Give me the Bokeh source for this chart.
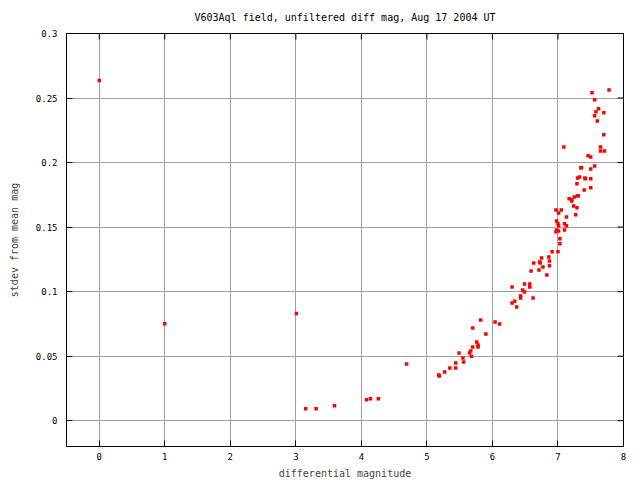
from bokeh.plotting import figure
from bokeh.models import LinearAxis, FixedTicker, Range1d, Title, Grid
from bokeh.embed import file_html
from bokeh.resources import INLINE

diff_mag = [0.0, 1.0, 3.01, 3.15, 3.31, 3.59, 4.08, 4.14, 4.26, 4.69,
            5.18, 5.19, 5.27, 5.35, 5.44, 5.44, 5.49, 5.56, 5.55, 5.65,
            5.67, 5.68, 5.70, 5.70, 5.76, 5.78, 5.78, 5.82, 5.90, 6.04,
            6.11, 6.30, 6.30, 6.34, 6.37, 6.43, 6.43, 6.46, 6.49, 6.49,
            6.57, 6.57, 6.62, 6.59, 6.63, 6.71, 6.72, 6.73, 6.75, 6.77,
            6.83, 6.86, 6.87, 6.87, 6.91, 7.00, 7.03, 7.03, 6.97, 6.98,
            7.01, 7.00, 7.01, 6.98, 7.10, 7.10, 7.13, 6.97, 7.01, 7.05,
            7.13, 7.24, 7.27, 7.29, 7.21,
            7.78, 7.52, 7.56, 7.62, 7.58, 7.70, 7.56, 7.60, 7.70, 7.09,
            7.65, 7.65, 7.71, 7.46, 7.50, 7.56, 7.35, 7.36, 7.50, 7.33,
            7.30, 7.41, 7.42, 7.50, 7.29, 7.50, 7.40, 7.30, 7.31, 7.25,
            7.17, 7.21]
stdev = [0.2636, 0.0752, 0.083, 0.0093, 0.0093, 0.0116, 0.0163, 0.017, 0.017, 0.044,
         0.0354, 0.0346, 0.0377, 0.0409, 0.0409, 0.0447, 0.0525, 0.0455, 0.0486, 0.0525,
         0.054, 0.050, 0.0571, 0.0719, 0.061, 0.0587, 0.0571, 0.078, 0.0672, 0.0765,
         0.075, 0.1036, 0.0912, 0.0925, 0.0881, 0.0966, 0.0951, 0.1013, 0.0998, 0.106,
         0.106, 0.1036, 0.0951, 0.116, 0.1222, 0.1168, 0.123, 0.1222, 0.1261, 0.1191,
         0.1129, 0.1269, 0.1238, 0.12, 0.1308, 0.1308, 0.137, 0.1409, 0.1463, 0.1478,
         0.147, 0.1525, 0.151, 0.1548, 0.1478, 0.1525, 0.151, 0.1633, 0.161, 0.1633,
         0.1579, 0.1664, 0.1595, 0.1649, 0.1703,
         0.2563, 0.254, 0.2486, 0.2416, 0.2393, 0.2385, 0.2362, 0.2323, 0.2215, 0.2121,
         0.2121, 0.209, 0.209, 0.2052, 0.2044, 0.1974, 0.1959, 0.1959, 0.1951, 0.1889,
         0.1881, 0.1881, 0.1874, 0.1874, 0.1835, 0.1804, 0.1788, 0.1742, 0.1742, 0.1734,
         0.1719, 0.1711]

x_ticks = [0, 1, 2, 3, 4, 5, 6, 7, 8]
y_ticks = [0, 0.05, 0.1, 0.15, 0.2, 0.25, 0.3]
y_tick_labels = ["0", "0.05", "0.1", "0.15", "0.2", "0.25", "0.3"]

X_MIN, X_MAX = -0.5, 8
Y_MIN, Y_MAX = -0.02, 0.3

FONT = "DejaVu Sans Mono"
FRAME_W, FRAME_H = 557, 413

p = figure(width=640, height=480, output_backend="svg", toolbar_location=None,
           x_range=Range1d(X_MIN, X_MAX), y_range=Range1d(Y_MIN, Y_MAX),
           frame_width=FRAME_W, frame_height=FRAME_H,
           min_border_left=66, min_border_right=17, min_border_top=33, min_border_bottom=34,
           x_axis_location=None, y_axis_location=None)
p.outline_line_color = "black"
p.outline_line_width = 1
p.background_fill_color = "white"
p.border_fill_color = "white"

title = Title(text="V603Aql field, unfiltered diff mag, Aug 17 2004 UT", align="center",
              vertical_align="top",
              text_font=FONT, text_font_size="10px", text_font_style="normal",
              text_color="black", offset=0, standoff=17)
p.add_layout(title, "above")

def mk_axis(ticks, overrides, label):
    ax = LinearAxis(ticker=FixedTicker(ticks=ticks))
    ax.axis_line_color = None
    ax.major_tick_in = 6
    ax.major_tick_out = 0
    ax.minor_tick_line_color = None
    ax.major_tick_line_color = "black"
    ax.major_label_text_font = FONT
    ax.major_label_text_font_size = "9px"
    ax.major_label_text_color = "black"
    ax.major_label_overrides = overrides
    ax.axis_label = label
    ax.axis_label_text_font = FONT
    ax.axis_label_text_font_size = "10px"
    ax.axis_label_text_font_style = "normal"
    return ax

xb = mk_axis(x_ticks, {t: str(t) for t in x_ticks}, "differential magnitude")
xb.major_label_standoff = 6
xb.axis_label_standoff = 5
p.add_layout(xb, "below")
yl = mk_axis(y_ticks, {t: s for t, s in zip(y_ticks, y_tick_labels)}, "stdev from mean mag")
yl.major_label_standoff = 9
yl.axis_label_standoff = 13
p.add_layout(yl, "left")

p.xgrid.visible = False
p.ygrid.visible = False
p.add_layout(Grid(dimension=0, ticker=FixedTicker(ticks=x_ticks), grid_line_color="#a0a0a0", grid_line_width=1))
p.add_layout(Grid(dimension=1, ticker=FixedTicker(ticks=y_ticks), grid_line_color="#a0a0a0", grid_line_width=1))

# mirrored inward ticks on top and right edges (6 px long)
tick_dx = 6 * (X_MAX - X_MIN) / FRAME_W
tick_dy = 6 * (Y_MAX - Y_MIN) / FRAME_H
p.segment(x0=x_ticks, y0=[Y_MAX] * len(x_ticks), x1=x_ticks, y1=[Y_MAX - tick_dy] * len(x_ticks),
          line_color="black", line_width=1)
p.segment(x0=[X_MAX] * len(y_ticks), y0=y_ticks, x1=[X_MAX - tick_dx] * len(y_ticks), y1=y_ticks,
          line_color="black", line_width=1)

p.scatter(diff_mag, stdev, marker="square", size=3.5, fill_color="#ff0000", line_color=None)

open("out.html", "w").write(file_html(p, INLINE))
